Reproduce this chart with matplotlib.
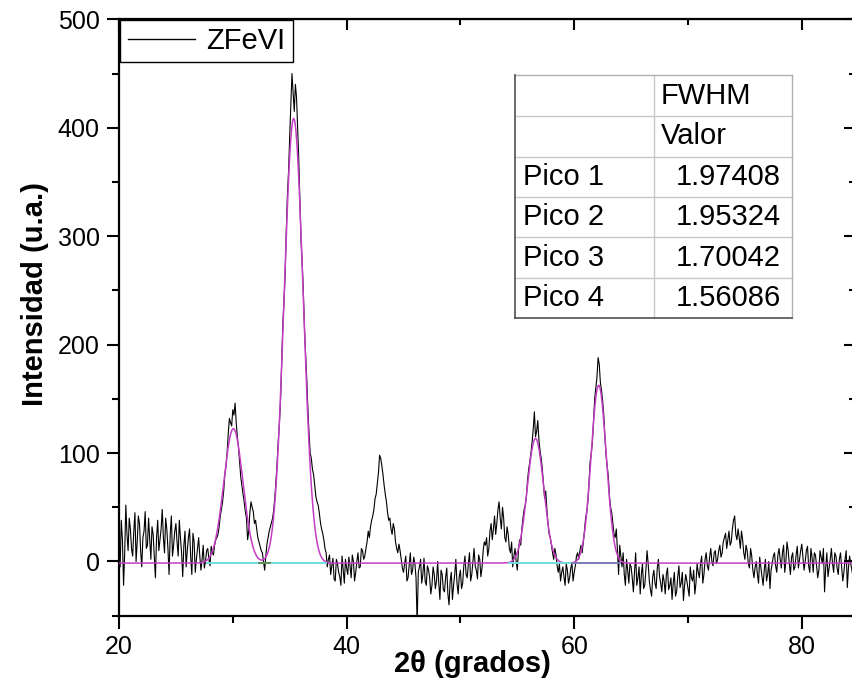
import numpy as np
import matplotlib
matplotlib.use("Agg")
import matplotlib.pyplot as plt
from matplotlib.ticker import MultipleLocator
from matplotlib.lines import Line2D
from matplotlib.patches import Rectangle

plt.rcParams['font.family'] = ['Liberation Sans', 'DejaVu Sans']

# ---------------- data ----------------
X_START = 20.0
X_STEP = 0.1
# intensity at 20.0, 20.2, 20.4, ...
intensity_even = [
    # 20.0 - 27.0
    15, 38, -22, 52, 10, 30, 5, 45, 18, 35, -5, 28, 12, 40, 2, 25, -15, 38,
    20, 48, 8, 30, -12, 42, 15, 35, 5, 22, -14, 28, 10, 30, -12, 18, 2, 22,
    # 27.2 - 28.2
    -8, 15, 0, 12, -4, 8,
    # 28.4 - 33.8 (peak 1)
    15, 22, 32, 48, 65, 88, 118, 128, 140, 146, 115, 92, 70, 55, 40, 28,
    55, 46, 38, 22, 14, 8, -8, 16, 28, 36, 48, 75,
    # 34.0 - 38.4 (peak 2)
    112, 150, 220, 265, 338, 392, 450, 415, 428, 370, 295, 248, 190, 140,
    100, 85, 70, 55, 45, 30, 20, 8, 2,
    # 38.6 - 41.4
    -12, 3, -18, -2, -14, 5, -20, -6, 4, -15, 0, -10, 8, -5, 10,
    # 41.6 - 44.8
    5, 18, 22, 38, 48, 62, 82, 95, 80, 62, 45, 40, 25, 30, 12, 16, 2,
    # 45.0 - 52.0
    -10, 5, -15, 8, -8, -2, -58, -5, -20, 3, -22, -8, -30, -5, -25, 0, -35,
    -12, -28, -6, -40, -10, -22, 2, -30, -8, -20, 5, -15, 8, -12, 12, -8, 6,
    -14, 10,
    # 52.2 - 54.4
    15, 5, 28, 20, 42, 35, 55, 30, 40, 18, 25, 8,
    # 54.6 - 58.6 (peak 3)
    -5, 12, -8, 20, 30, 48, 60, 85, 100, 122, 115, 130, 102, 85, 58, 48, 25,
    15, 2, 6, -10,
    # 58.8 - 60.2
    -18, -5, -22, -8, -15, -2, -10, 5,
    # 60.4 - 64.2 (peak 4)
    2, 15, 18, 40, 55, 92, 110, 150, 170, 182, 158, 135, 98, 78, 50, 35, 22,
    10, 15, -5,
    # 64.4 - 72.4
    -12, 2, -20, -5, -28, 8, -15, -30, -2, -22, 10, -18, -32, -8, -25, 2, -20,
    -12, -30, -6, -22, -35, -10, -28, -4, -20, -36, -12, -25, -5, -18, -30, -2,
    -15, 5, -12, 8, -8, 12, -4, 10,
    # 72.6 - 75.6
    2, 15, 8, 22, 12, 28, 18, 38, 25, 30, 12, 20, 2, 10, -6, 5,
    # 75.8 - 84.6
    -15, 0, -20, -5, -22, 2, -12, -25, -2, 8, -10, 12, -6, 15, 0, 10, -12, 8,
    -5, 14, 2, 16, -8, 10, -4, 12, -10, 6, -15, 10, -2, -28, 8, -6, 12, -10, 5,
    -12, 8, -18, 2, -24, 5, -8, 3,
]
# intensity at 20.1, 20.3, 20.5, ...
intensity_odd = [
    # 20.1 - 26.9
    -5, 20, 8, 25, 40, 12, 28, 0, 42, 10, 22, 46, 15, 20, 32, 5, 22, 10, 30,
    22, 40, 12, 25, 5, 28, 18, 38, 8, 15, -5, 22, 4, 26, -10, 12,
    # 27.1 - 28.3
    5, 2, -6, 10, 2, 14, 6,
    # 28.5 - 33.9
    20, 25, 42, 55, 80, 100, 132, 125, 135, 128, 105, 78, 62, 46, 20, 45, 50,
    35, 30, 18, 10, 0, 5, 22, 32, 40, 60, 92,
    # 34.1 - 38.5
    128, 185, 240, 305, 360, 420, 432, 440, 398, 330, 275, 215, 168, 118, 95,
    80, 60, 52, 36, 26, 12, -5, 6,
    # 38.7 - 41.5
    -4, -16, 2, -10, -22, -8, 2, -12, -4, 6, -18, 0, -6, 12, 2,
    # 41.7 - 44.9
    12, 28, 32, 42, 58, 72, 98, 88, 70, 55, 38, 30, 35, 18, 8, 10, -6,
    # 45.1 - 52.1
    -2, -18, -4, -12, 4, -15, -10, 2, -12, -18, -4, -15, -22, -12, -18, -20,
    -8, -26, -15, -30, -18, -35, -12, -20, -14, -25, -4, -12, -2, -18, 0, -4,
    -16, 2, -6, 18,
    # 52.3 - 54.5
    22, 12, 35, 30, 25, 48, 40, 50, 22, 32, 12, 18,
    # 54.7 - 58.7
    5, 0, 10, 15, 40, 52, 75, 92, 110, 138, 120, 112, 95, 72, 65, 35, 22, 8,
    12, -4, -2,
    # 58.9 - 60.3
    -10, -14, -2, -20, -6, -18, -4, 8,
    # 60.5 - 64.3
    10, 8, 28, 45, 72, 100, 130, 160, 188, 165, 148, 115, 88, 60, 45, 25, 30,
    -12, 5, 8,
    # 64.5 - 72.5
    -22, -8, -2, -15, -10, -22, -5, -12, -25, -8, -2, -26, -14, -20, -6, -14,
    -28, -18, -12, -26, -15, -20, -32, -14, -24, -10, -22, -18, -32, -15, -8,
    -20, -10, -2, -20, 2, -4, 4, 0, 8, -2,
    # 72.7 - 75.7
    10, 4, 18, 26, 20, 15, 30, 42, 20, 22, 28, 8, 15, -2, 12, -8,
    # 75.9 - 84.5
    -5, -12, 4, -14, -8, -18, 0, -8, 5, -4, 6, 2, 8, -10, 18, -2, 4, -8, 6,
    -6, 10, 4, 0, 14, -10, 4, 8, -4, -8, 4, 12, -6, -14, 2, -2, 8, -6, 2, -5,
    -10, 10, -6, -2, -14,
]

series_label = "ZFeVI"

# fitted Gaussian peaks (FWHM values from the table)
peak_names = ["Pico 1", "Pico 2", "Pico 3", "Pico 4"]
peak_centers = [30.05, 35.35, 56.60, 62.15]
peak_heights = [124, 410, 115, 164]
peak_fwhm = [1.97408, 1.95324, 1.70042, 1.56086]
baseline_level = -1.5

# baseline segments drawn under the fitted peaks
baseline_ranges = [(27.7, 38.2), (54.3, 59.8), (59.8, 64.0), (32.3, 33.3)]
baseline_colors = ['#6FDCDC', '#6FDCDC', '#7A7AB8', '#5E8F5E']

table_header = ["FWHM", "Valor"]

# ---------------- figure ----------------
W, H = 853, 685
fig = plt.figure(figsize=(W / 100, H / 100), dpi=100)

def fx(px):
    return px / W

def fy(py):
    return 1 - py / H

ax_left, ax_right, ax_top, ax_bottom = 119, 855, 19.3, 615.7
ax = fig.add_axes([fx(ax_left), fy(ax_bottom), (ax_right - ax_left) / W,
                   (ax_bottom - ax_top) / H])

intensity = np.empty(len(intensity_even) + len(intensity_odd))
intensity[0::2] = intensity_even
intensity[1::2] = intensity_odd
x = X_START + X_STEP * np.arange(len(intensity))
x_max = 20 + (ax_right - ax_left) / 11.38

data_line, = ax.plot(x, intensity, color='black', lw=0.8, zorder=2)

xf = np.linspace(20, x_max, 3000)
fit = np.full_like(xf, baseline_level)
for c, h, w in zip(peak_centers, peak_heights, peak_fwhm):
    fit += h * np.exp(-4 * np.log(2) * (xf - c) ** 2 / w ** 2)
ax.plot(xf, fit, color='#C43CC4', lw=1.1, zorder=3)

for (a, b), col in zip(baseline_ranges, baseline_colors):
    ax.plot([a, b], [baseline_level, baseline_level], color=col, lw=1.4, zorder=4)

ax.set_xlim(20, x_max)
ax.set_ylim(-50, 500)

ax.xaxis.set_major_locator(MultipleLocator(20))
ax.xaxis.set_minor_locator(MultipleLocator(10))
ax.yaxis.set_major_locator(MultipleLocator(100))
ax.yaxis.set_minor_locator(MultipleLocator(50))
ax.tick_params(which='major', direction='out', length=9, width=1.5,
               labelsize=18, pad=5, colors='black')
ax.tick_params(which='minor', direction='out', length=5, width=1.5)
for sp in ax.spines.values():
    sp.set_linewidth(1.6)

sx = ax.secondary_xaxis('top')
sx.xaxis.set_major_locator(MultipleLocator(20))
sx.xaxis.set_minor_locator(MultipleLocator(10))
sx.tick_params(which='major', direction='in', length=8, width=1.5, labeltop=False)
sx.tick_params(which='minor', direction='in', length=4, width=1.5)
sy = ax.secondary_yaxis('right')
sy.yaxis.set_major_locator(MultipleLocator(100))
sy.yaxis.set_minor_locator(MultipleLocator(50))
sy.tick_params(which='major', direction='in', length=8, width=1.5, labelright=False)
sy.tick_params(which='minor', direction='in', length=4, width=1.5)

fig.text(fx(35), fy(294), "Intensidad (u.a.)", rotation=90, ha='center',
         va='center', fontsize=21, fontweight='bold')
fig.text(fx(472), fy(664), "2\u03b8 (grados)", ha='center', va='center',
         fontsize=21, fontweight='bold')

leg = ax.legend([data_line], [series_label], loc='upper left',
                bbox_to_anchor=(0.002, 0.999), borderaxespad=0, fontsize=21,
                handlelength=2.3, handletextpad=0.4, borderpad=0.25,
                fancybox=False, framealpha=1, edgecolor='black')
leg.get_frame().set_linewidth(1.0)
leg.get_lines()[0].set_linewidth(1.0)

# ---------------- inset table ----------------
t_left, t_mid, t_right = 515, 654, 792
row_lines = [75, 116, 156.7, 197, 237.3, 277.7, 318]
fig.add_artist(Rectangle((fx(t_left), fy(row_lines[-1])),
                         (t_right - t_left) / W,
                         (row_lines[-1] - row_lines[0]) / H,
                         transform=fig.transFigure, facecolor='white',
                         edgecolor='none', zorder=5))
light = '#C8C8C8'
for yy in row_lines[1:-1]:
    fig.add_artist(Line2D([fx(t_left), fx(t_right)], [fy(yy), fy(yy)],
                          color=light, lw=1.0, zorder=6))
fig.add_artist(Line2D([fx(t_mid), fx(t_mid)], [fy(row_lines[0]), fy(row_lines[-1])],
                      color=light, lw=1.0, zorder=6))
fig.add_artist(Line2D([fx(t_left), fx(t_right)], [fy(row_lines[0])] * 2,
                      color='#B0B0B0', lw=1.0, zorder=6))
fig.add_artist(Line2D([fx(t_right)] * 2, [fy(row_lines[0]), fy(row_lines[-1])],
                      color='#B0B0B0', lw=1.0, zorder=6))
fig.add_artist(Line2D([fx(t_left)] * 2, [fy(row_lines[0]), fy(row_lines[-1])],
                      color='#505050', lw=1.2, zorder=7))
fig.add_artist(Line2D([fx(t_left), fx(t_right)], [fy(row_lines[-1])] * 2,
                      color='#505050', lw=1.2, zorder=7))

centers = [(row_lines[i] + row_lines[i + 1]) / 2 for i in range(len(row_lines) - 1)]
for i, txt in enumerate(table_header):
    fig.text(fx(661), fy(centers[i]), txt, ha='left', va='center',
             fontsize=21, zorder=8)
for i, (name, val) in enumerate(zip(peak_names, peak_fwhm)):
    fig.text(fx(523), fy(centers[i + 2]), name, ha='left', va='center',
             fontsize=21, zorder=8)
    fig.text(fx(781), fy(centers[i + 2]), f"{val:.5f}", ha='right',
             va='center', fontsize=21, zorder=8)

fig.savefig("out.png", dpi=100)
